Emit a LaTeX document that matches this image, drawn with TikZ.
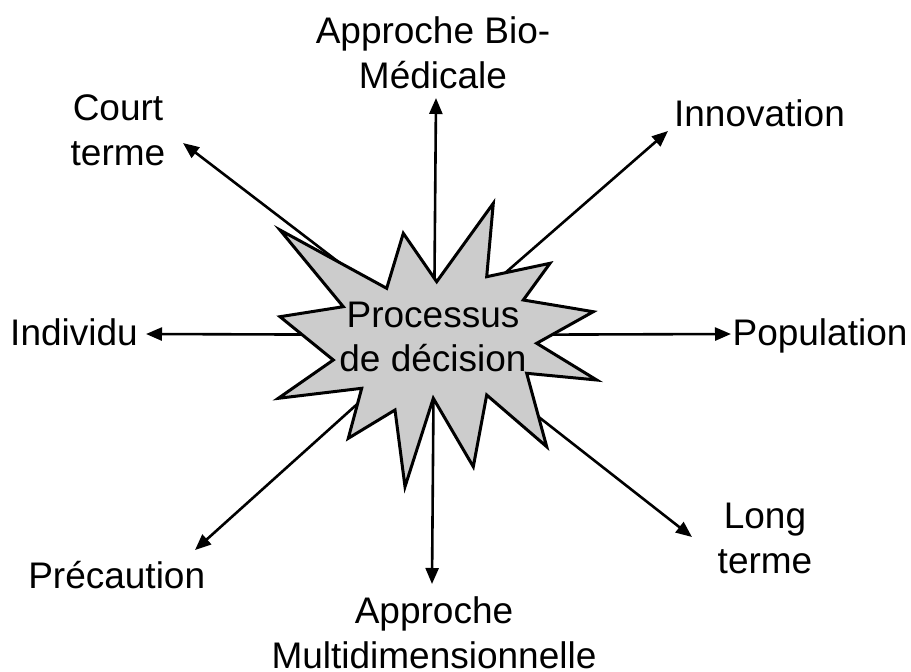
\documentclass[tikz,border=0pt]{standalone}
\usepackage{fontspec}
\setmainfont{Liberation Sans}
\usetikzlibrary{arrows.meta}

\newcommand{\lblfont}{\fontsize{37}{44.5}\selectfont}
\newcommand{\twolines}[2]{\begin{tabular}[b]{@{}c@{}}#1\\#2\end{tabular}}

\tikzset{
  lbl/.style={font=\lblfont, anchor=base, inner sep=0pt},
  ray/.style={line width=2.6pt, -{Triangle[length=16pt,width=13pt]}},
  burst/.style={fill=black!20, draw=black, line width=3pt, line join=miter, miter limit=12}
}

\begin{document}
\begin{tikzpicture}[x=1pt,y=-1pt]
\useasboundingbox (0,0) rectangle (911,672);

% centre of the burst and the ends of the rays
\coordinate (c) at (434,335);
\coordinate (tUp) at (436,98);
\coordinate (tUR) at (668,131);
\coordinate (tR) at (731,334);
\coordinate (tDR) at (692,537);
\coordinate (tDn) at (432,584);
\coordinate (tDL) at (195,550);
\coordinate (tL) at (146,334);
\coordinate (tUL) at (183,143);

% rays, drawn first so the burst covers their inner ends
\foreach \t in {tUp,tUR,tR,tDR,tDn,tDL,tL,tUL}
  \draw[ray] (c) -- (\t);

% the burst
\draw[burst] (280,230) -- (386.7,288.3) -- (403.3,233.3) -- (436.7,281.7)
  -- (493.3,203.3) -- (486.7,276.7) -- (550,263.3) -- (523.3,300)
  -- (593.3,311.7) -- (536.7,343.3) -- (596.7,380) -- (526.7,373.3)
  -- (546.7,446.7) -- (486.7,395) -- (473.3,466.7) -- (433.3,398.3)
  -- (405,486.7) -- (395,410) -- (348.3,438.3) -- (361.7,388.3)
  -- (278.3,398.3) -- (333.3,360) -- (280,316.7) -- (343.3,306.7) -- cycle;

% labels
\node[lbl] (proc) at (433,371.7) {\twolines{Processus}{de décision}};
\node[lbl] (bio) at (433,88.3) {\twolines{Approche Bio-}{Médicale}};
\node[lbl] (innov) at (759.5,126.7) {Innovation};
\node[lbl] (court) at (118,165) {\twolines{Court}{terme}};
\node[lbl] (indiv) at (74,345) {Individu};
\node[lbl] (popul) at (820,345) {Population};
\node[lbl] (long) at (765,573.3) {\twolines{Long}{terme}};
\node[lbl] (prec) at (116.7,588.3) {Précaution};
\node[lbl] (multi) at (434,668.3) {\twolines{Approche}{Multidimensionnelle}};
\end{tikzpicture}
\end{document}
